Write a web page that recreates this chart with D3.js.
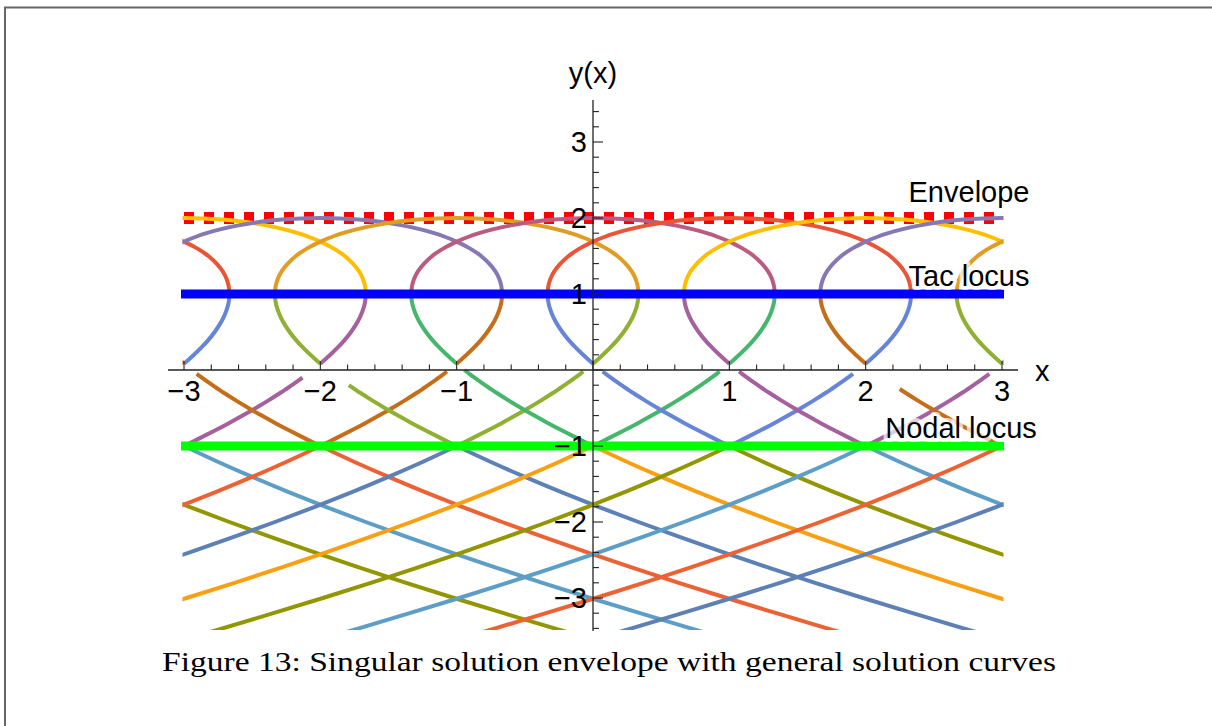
<!DOCTYPE html>
<html>
<head>
<meta charset="utf-8">
<script src="https://cdn.jsdelivr.net/npm/d3@7/dist/d3.min.js"></script>
<style>
  body { margin: 0; background: #fff; }
  svg { display: block; }
</style>
</head>
<body>
<div id="chart"></div>
<script>
// Data
var cValues = [-4, -3, -2, -1, 0, 1, 2, 3, 4];
var topColors = ["#E95536", "#FFBF00", "#8778B3", "#E19C24", "#BC5B80", "#E95536", "#FFBF00", "#8778B3", "#E19C24"];
var midColors = ["#6685D9", "#A5609D", "#C56E1A", "#8FB032", "#47B66D", "#6685D9", "#A5609D", "#C56E1A", "#8FB032"];
var lowColors = ["#929600", "#5D9EC7", "#EB6235", "#5E81B5", "#F89F13", "#929600", "#5D9EC7", "#EB6235", "#5E81B5"];

// one side of each branch, [offset from c, y]
var topBranch = [[0, 2], [0.141, 1.995], [0.281, 1.98], [0.44, 1.95], [0.611, 1.9], [0.736, 1.85], [0.835, 1.8],
    [0.917, 1.75], [0.986, 1.7], [1.045, 1.65], [1.096, 1.6], [1.14, 1.55], [1.179, 1.5], [1.239, 1.4],
    [1.283, 1.3], [1.312, 1.2], [1.328, 1.1], [1.333, 1.0]];
var midUpperBranch = [[1.333, 1.0], [1.3285, 0.9], [1.3145, 0.8], [1.292, 0.7], [1.262, 0.6], [1.225, 0.5],
    [1.181, 0.4], [1.13, 0.3], [1.073, 0.2], [1.011, 0.1], [1.0, 0.08]];
var midLowerBranch = [[0.943, 0], [0.929, -0.02], [0.907, -0.05], [0.869, -0.1], [0.831, -0.15], [0.791, -0.2],
    [0.75, -0.25], [0.708, -0.3], [0.62, -0.4], [0.527, -0.5], [0.43, -0.6], [0.329, -0.7], [0.223, -0.8],
    [0.113, -0.9], [0, -1]];
var lowBranch = [[0, -1], [0.239, -1.2], [0.492, -1.4], [0.759, -1.6], [1.04, -1.8], [1.333, -2.0], [1.64, -2.2],
    [1.958, -2.4], [2.288, -2.6], [2.629, -2.8], [2.981, -3.0], [3.345, -3.2], [3.718, -3.4], [4.102, -3.6]];
// where the lower middle pieces start (gaps near y = 0)
var midLowLeftStart = [-0.05, -0.05, -0.05, -0.2, 0, -0.02, -0.02, -0.25, -0.05];
var midLowRightStart = [-0.05, -0.1, -0.02, -0.02, -0.02, -0.05, -0.05, -0.05, -0.05];

var xTicks = [-3, -2, -1, 1, 2, 3];
var yTicks = [-3, -2, -1, 1, 2, 3];
var loci = [{"y": 2, "label": "Envelope", "c": "#FF0000"},
    {"y": 1, "label": "Tac locus", "c": "#0000FF"},
    {"y": -1, "label": "Nodal locus", "c": "#00FF00"}];

var svg = d3.select("#chart")
    .append("svg")
    .attr("width", 1212)
    .attr("height", 726);

// page border (top and left only)
svg.append("line").attr("x1", 4).attr("y1", 7.5).attr("x2", 1212).attr("y2", 7.5)
    .attr("stroke", "#666").attr("stroke-width", 2);
svg.append("line").attr("x1", 5).attr("y1", 7).attr("x2", 5).attr("y2", 726)
    .attr("stroke", "#666").attr("stroke-width", 2);

var x = d3.scaleLinear().domain([-3, 3]).range([184, 1002]);
var y = d3.scaleLinear().domain([-1, 2]).range([446, 218]);

svg.append("defs").append("clipPath").attr("id", "plotClip")
    .append("rect")
    .attr("x", x(-3) - 1.5).attr("y", y(3.55))
    .attr("width", x(3) - x(-3) + 3).attr("height", y(-3.42) - y(3.55));

var lineFunction = d3.line()
    .x(function(d) { return x(d[0]); })
    .y(function(d) { return y(d[1]); })
    .curve(d3.curveCatmullRom);

// build pieces
var pieces = [];
function shift(branch, c, side) {
    return branch.map(function(p) { return [c + side * p[0], p[1]]; });
}
cValues.forEach(function(c, i) {
    var left = shift(topBranch, c, -1).reverse();
    var right = shift(topBranch, c, 1).slice(1);
    pieces.push({"p": left.concat(right), "c": topColors[i]});
    pieces.push({"p": shift(midUpperBranch, c, -1), "c": midColors[i]});
    pieces.push({"p": shift(midUpperBranch, c, 1), "c": midColors[i]});
    pieces.push({"p": shift(midLowerBranch.filter(function(p) { return p[1] <= midLowLeftStart[i] + 1e-9; }), c, -1), "c": midColors[i]});
    pieces.push({"p": shift(midLowerBranch.filter(function(p) { return p[1] <= midLowRightStart[i] + 1e-9; }), c, 1), "c": midColors[i]});
    pieces.push({"p": shift(lowBranch, c, -1), "c": lowColors[i]});
    pieces.push({"p": shift(lowBranch, c, 1), "c": lowColors[i]});
});

// envelope under the curves
svg.append("line")
    .attr("x1", x(-3)).attr("x2", x(3) + 2)
    .attr("y1", y(2)).attr("y2", y(2))
    .attr("stroke", "#FF0000")
    .attr("stroke-width", 12)
    .attr("stroke-dasharray", "10,10");

svg.append("g")
    .attr("clip-path", "url(#plotClip)")
    .selectAll("path")
    .data(pieces)
    .enter()
    .append("path")
    .attr("d", function(d) { return lineFunction(d.p); })
    .attr("stroke", function(d) { return d.c; })
    .attr("stroke-width", 4)
    .attr("stroke-linecap", "butt")
    .attr("fill", "none");

// tac and nodal loci on top
svg.selectAll("line.locus")
    .data(loci.slice(1))
    .enter()
    .append("line")
    .attr("class", "locus")
    .attr("x1", x(-3) - 3).attr("x2", x(3) + 2)
    .attr("y1", function(d) { return y(d.y); })
    .attr("y2", function(d) { return y(d.y); })
    .attr("stroke", function(d) { return d.c; })
    .attr("stroke-width", 9);

// axes
var axisColor = "#222";
svg.append("line").attr("x1", 168).attr("x2", 1018).attr("y1", y(0)).attr("y2", y(0))
    .attr("stroke", axisColor).attr("stroke-width", 1.3);
svg.append("line").attr("x1", x(0)).attr("x2", x(0)).attr("y1", 100).attr("y2", 631)
    .attr("stroke", axisColor).attr("stroke-width", 1.3);

var xMinor = d3.range(-15, 16).map(function(k) { return k / 5; });
svg.selectAll("line.xtick")
    .data(xMinor)
    .enter()
    .append("line")
    .attr("class", "xtick")
    .attr("x1", function(d) { return x(d); })
    .attr("x2", function(d) { return x(d); })
    .attr("y1", y(0))
    .attr("y2", function(d) { return y(0) - (Math.abs(d - Math.round(d)) < 1e-6 ? 9 : 5.5); })
    .attr("stroke", axisColor).attr("stroke-width", 1.1);

var yMinor = d3.range(-17, 18).map(function(k) { return k / 5; });
svg.selectAll("line.ytick")
    .data(yMinor)
    .enter()
    .append("line")
    .attr("class", "ytick")
    .attr("y1", function(d) { return y(d); })
    .attr("y2", function(d) { return y(d); })
    .attr("x1", x(0))
    .attr("x2", function(d) { return x(0) + (Math.abs(d - Math.round(d)) < 1e-6 ? 10 : 6); })
    .attr("stroke", axisColor).attr("stroke-width", 1.1);

var font = "'Liberation Sans', Arial, sans-serif";
var fs = "29px";
svg.selectAll("text.xlab")
    .data(xTicks)
    .enter()
    .append("text")
    .attr("class", "xlab")
    .attr("x", function(d) { return x(d); })
    .attr("y", y(0) + 31)
    .attr("text-anchor", "middle")
    .style("font-family", font).style("font-size", fs)
    .text(function(d) { return d < 0 ? "\u2212" + (-d) : d; });

svg.selectAll("text.ylab")
    .data(yTicks)
    .enter()
    .append("text")
    .attr("class", "ylab")
    .attr("x", x(0) - 6)
    .attr("y", function(d) { return y(d) + 10; })
    .attr("text-anchor", "end")
    .style("font-family", font).style("font-size", fs)
    .text(function(d) { return d < 0 ? "\u2212" + (-d) : d; });

svg.append("text").attr("x", 1035).attr("y", y(0) + 11)
    .style("font-family", font).style("font-size", fs).text("x");
svg.append("text").attr("x", x(0)).attr("y", 83).attr("text-anchor", "middle")
    .style("font-family", font).style("font-size", fs).text("y(x)");

// locus labels with a light backdrop
var labelPos = [{"x": 969, "y": 202}, {"x": 969, "y": 286}, {"x": 961, "y": 438}];
var labels = svg.selectAll("g.lab")
    .data(loci)
    .enter()
    .append("g")
    .attr("class", "lab");
labels.append("text")
    .attr("x", function(d, i) { return labelPos[i].x; })
    .attr("y", function(d, i) { return labelPos[i].y; })
    .attr("text-anchor", "middle")
    .style("font-family", font).style("font-size", fs)
    .style("paint-order", "stroke")
    .attr("stroke", "rgba(255,255,255,0.7)")
    .attr("stroke-width", 8)
    .attr("stroke-linejoin", "round")
    .attr("fill", "#000")
    .text(function(d) { return d.label; });

// caption
svg.append("text")
    .attr("x", 609).attr("y", 671)
    .attr("text-anchor", "middle")
    .attr("textLength", 894)
    .attr("lengthAdjust", "spacingAndGlyphs")
    .style("font-family", "'Liberation Serif', 'Times New Roman', serif")
    .style("font-size", "28px")
    .text("Figure 13: Singular solution envelope with general solution curves");
</script>
</body>
</html>
